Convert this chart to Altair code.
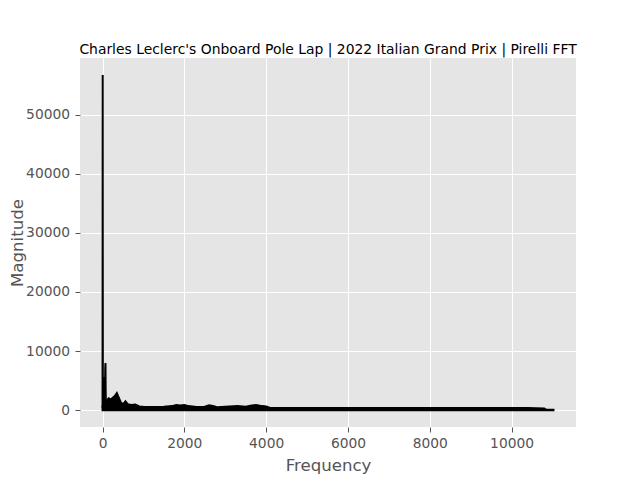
"""
FFT magnitude of the onboard audio from Leclerc's 2022 Monza pole lap, drawn ggplot-style.
"""
import pandas as pd
import altair as alt

# Spike region near 0 Hz
peak_freq = [0, 4, 8, 12, 18, 24, 30, 36, 42, 48, 54, 60, 66, 72, 76, 82, 90, 100]
peak_mag = [400, 56700, 2800, 5500, 2000, 300, 1500, 2800, 1200, 4000, 5600, 3000, 7000, 8000, 3500, 1500, 600, 1500]

# Upper envelope of the dense noise band, lower edge sits at 0
band_freq = [0, 100, 150, 200, 250, 300, 350, 400, 450, 500, 560, 620, 700, 800, 900,
             1000, 1200, 1500, 1700, 1800, 1900, 2000, 2100, 2300, 2500, 2600, 2700, 2800,
             3000, 3300, 3500, 3650, 3750, 3850, 4000, 4100, 6000, 8000, 10400, 10800, 10850, 11025]
band_upper = [700, 1600, 2000, 1800, 2100, 2400, 2900, 2100, 1300, 1000, 1500, 1000, 900, 950, 650,
              600, 550, 600, 700, 900, 800, 900, 700, 550, 600, 850, 700, 500,
              600, 700, 600, 800, 900, 750, 650, 380, 380, 380, 360, 300, 60, 60]

x_ticks = [0, 2000, 4000, 6000, 8000, 10000]
y_ticks = [0, 10000, 20000, 30000, 40000, 50000]

TITLE = "Charles Leclerc's Onboard Pole Lap | 2022 Italian Grand Prix | Pirelli FFT"


def main():
    peaks = pd.DataFrame({'freq': peak_freq, 'mag': peak_mag})
    band = pd.DataFrame({'freq': band_freq, 'upper': band_upper})

    x_scale = alt.Scale(domain=[-551, 11576], nice=False, zero=False)
    y_scale = alt.Scale(domain=[-2837, 59570], nice=False, zero=False)

    x_axis = alt.Axis(values=x_ticks, format='d', title='Frequency', titleX=248, titleY=43,
                      titleBaseline='alphabetic', labelBaseline='alphabetic', labelPadding=15)
    y_axis = alt.Axis(values=y_ticks, format='d', title='Magnitude', titleX=-58, titleY=184.5,
                      titleBaseline='alphabetic', titleAngle=270, labelPadding=5.5,
                      labelBaseline='middle')

    band_chart = alt.Chart(band).mark_area(
        fill='black', stroke='black', strokeWidth=2, interpolate='linear'
    ).encode(
        x=alt.X('freq:Q', scale=x_scale, axis=x_axis),
        y=alt.Y('upper:Q', scale=y_scale, axis=y_axis),
        y2=alt.datum(0),
    )

    peak_chart = alt.Chart(peaks).mark_line(color='black', strokeWidth=2).encode(
        x=alt.X('freq:Q', scale=x_scale),
        y=alt.Y('mag:Q', scale=y_scale),
    )

    chart = (band_chart + peak_chart).properties(
        width=496,
        height=369,
        autosize=alt.AutoSizeParams(type='none'),
        padding={'left': 72, 'top': 50, 'right': 56, 'bottom': 54},
        title=alt.TitleParams(TITLE, fontSize=13.9, font='DejaVu Sans', fontWeight='normal',
                              color='black', anchor='middle', baseline='alphabetic',
                              frame='group', offset=8, dy=18),
        background='white',
    ).configure_view(
        fill='#E5E5E5', stroke=None
    ).configure_axis(
        domain=False,
        grid=True, gridColor='white', gridWidth=1,
        tickColor='#555555', tickSize=5, tickWidth=1,
        labelColor='#555555', labelFontSize=13.8, labelFont='DejaVu Sans',
        titleColor='#555555', titleFontSize=16.6, titleFont='DejaVu Sans', titleFontWeight='normal',
    )

    chart.save("out.html", embed_options={"renderer": "svg", "actions": False})


if __name__ == "__main__":
    main()
